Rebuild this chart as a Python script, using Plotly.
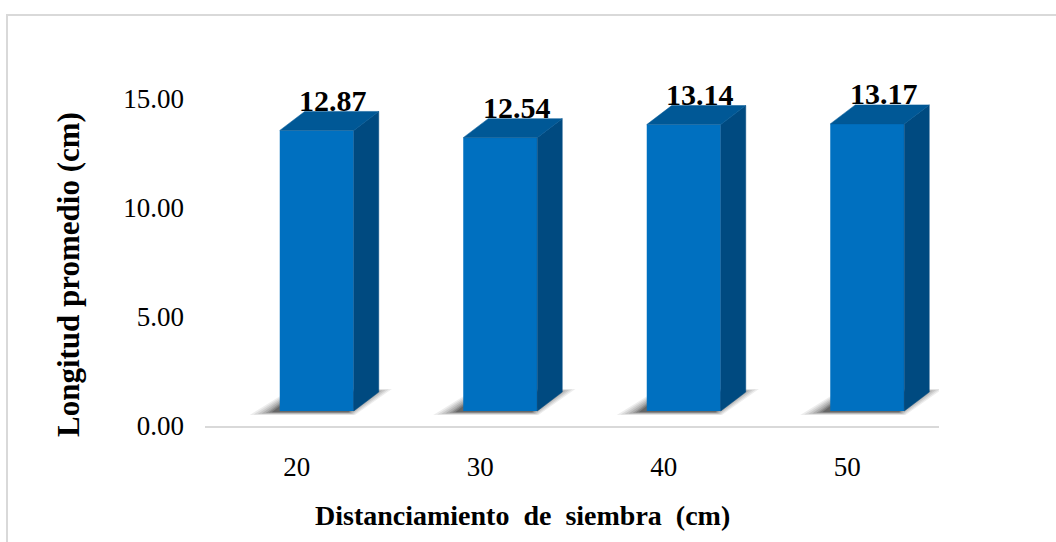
import plotly.graph_objects as go

# ---------------- data ----------------
categories = ["20", "30", "40", "50"]
values = [12.87, 12.54, 13.14, 13.17]
y_ticks = [0, 5, 10, 15]
y_tick_labels = ["0.00", "5.00", "10.00", "15.00"]
x_title = "Distanciamiento  de  siembra  (cm)"
y_title = "Longitud promedio (cm)"

# ---------------- geometry / style ----------------
W, H = 1056, 542
ML, MR, MT, MB = 205, 117, 80, 116
plot_w = W - ML - MR          # 734
plot_h = H - MT - MB          # 346
XR = [-0.5, len(categories) - 0.5]
PXU = (XR[1] - XR[0]) / plot_w      # x units per pixel
SCALE = 21.8                         # pixels per y unit
YR = [0, plot_h / SCALE]
BASE = 15 / SCALE                    # front face floor lifted 15px
Y2R = [YR[0] - BASE, YR[1] - BASE]

BAR_W = 74 * PXU
BAR_SHIFT = 20 * PXU                 # front face centre offset from category
DX = 25 * PXU                        # depth offset (x)
DY = 19 / SCALE                      # depth offset (y)

FRONT = "#0070C0"
TOP = "#005896"
SIDE = "#004A80"
FONT = "Liberation Serif"

xs = list(range(len(categories)))
fig = go.Figure()

# soft ground shadows (base axis y, drawn underneath)
layers = [(24, 0.07), (20, 0.08), (16, 0.09), (12, 0.11), (8, 0.13), (5, 0.16), (2, 0.2)]
for i, v in enumerate(values):
    xl = xs[i] + BAR_SHIFT - BAR_W / 2 - 6 * PXU
    xr = xs[i] + BAR_SHIFT + BAR_W / 2 - 6 * PXU
    for e, op in layers:
        ex = e * PXU
        ey = e * 0.12 / SCALE
        px = [xl - ex, xr + ex * 0.3, xr + DX + ex * 0.8, xl + DX - ex * 0.3, xl - ex]
        py = [BASE - ey - 1 / SCALE, BASE - ey - 1 / SCALE, BASE + DY + ey, BASE + DY + ey, BASE - ey - 1 / SCALE]
        fig.add_trace(go.Scatter(x=px, y=py, mode="lines", fill="toself",
                                 fillcolor=f"rgba(0,0,0,{op})", line=dict(width=0),
                                 hoverinfo="skip", showlegend=False,
                                 xaxis="x", yaxis="y"))

# front faces
fig.add_trace(go.Bar(x=xs, y=values, width=BAR_W,
                     offset=BAR_SHIFT - BAR_W / 2,
                     marker=dict(color=FRONT, line=dict(width=0)),
                     xaxis="x", yaxis="y2", showlegend=False,
                     hovertemplate="%{y:.2f}<extra></extra>"))

# side and top faces
for i, v in enumerate(values):
    xl = xs[i] + BAR_SHIFT - BAR_W / 2
    xr = xs[i] + BAR_SHIFT + BAR_W / 2
    fig.add_trace(go.Scatter(x=[xr, xr + DX, xr + DX, xr, xr],
                             y=[0, DY, v + DY, v, 0],
                             mode="lines", fill="toself", fillcolor=SIDE,
                             line=dict(width=0.5, color=SIDE), hoverinfo="skip",
                             showlegend=False, xaxis="x", yaxis="y2"))
    fig.add_trace(go.Scatter(x=[xl, xr, xr + DX, xl + DX, xl],
                             y=[v, v, v + DY, v + DY, v],
                             mode="lines", fill="toself", fillcolor=TOP,
                             line=dict(width=0.5, color=TOP), hoverinfo="skip",
                             showlegend=False, xaxis="x", yaxis="y2"))
    fig.add_annotation(x=xl + BAR_W / 2 + DX / 2, y=v + DY, xref="x", yref="y2",
                       text=f"<b>{v:.2f}</b>", showarrow=False,
                       xanchor="center", yanchor="middle", xshift=4, yshift=11,
                       font=dict(family=FONT, size=30, color="black"))

# axis titles
fig.add_annotation(x=(522 - ML) / plot_w, y=-(515 - (MT + plot_h)) / plot_h,
                   xref="paper", yref="paper", text=f"<b>{x_title}</b>",
                   showarrow=False, xanchor="center", yanchor="middle",
                   font=dict(family=FONT, size=28, color="black"))
fig.add_annotation(x=(68 - ML) / plot_w, y=((MT + plot_h) - 275) / plot_h,
                   xref="paper", yref="paper", text=f"<b>{y_title}</b>",
                   textangle=-90, showarrow=False, xanchor="center", yanchor="middle",
                   font=dict(family=FONT, size=31, color="black"))

# chart-area border
fig.add_shape(type="rect", xref="paper", yref="paper",
              x0=(7 - ML) / plot_w, x1=(1062 - ML) / plot_w,
              y0=((MT + plot_h) - 548) / plot_h, y1=((MT + plot_h) - 15) / plot_h,
              line=dict(color="#D9D9D9", width=2), fillcolor="rgba(0,0,0,0)",
              layer="below")

fig.update_layout(
    width=W, height=H,
    margin=dict(l=ML, r=MR, t=MT, b=MB, pad=0),
    paper_bgcolor="white", plot_bgcolor="white",
    showlegend=False,
    xaxis=dict(range=XR, tickvals=xs, ticktext=categories,
               showgrid=False, zeroline=False,
               showline=True, linecolor="#D9D9D9", linewidth=2,
               ticks="", ticklabelstandoff=16,
               tickfont=dict(family=FONT, size=27, color="black"),
               fixedrange=True),
    yaxis=dict(range=YR, tickvals=y_ticks, ticktext=y_tick_labels,
               showgrid=False, zeroline=False, showline=False,
               ticks="", ticklabelstandoff=20,
               tickfont=dict(family=FONT, size=27, color="black"),
               fixedrange=True),
    yaxis2=dict(range=Y2R, overlaying="y", visible=False, fixedrange=True),
)

fig.write_html("out.html")
